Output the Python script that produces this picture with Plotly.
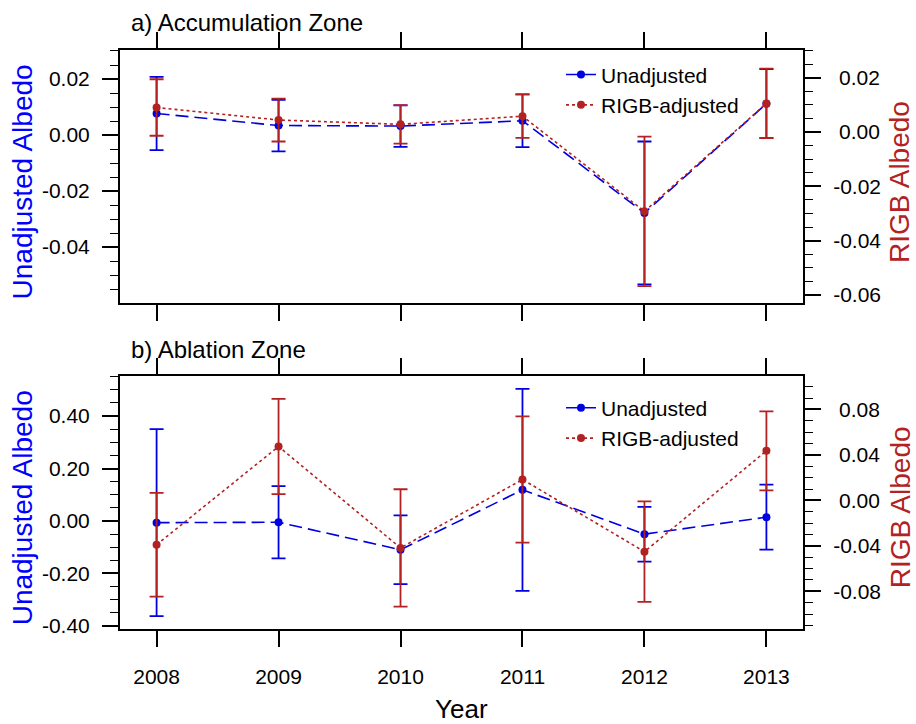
import plotly.graph_objects as go

# ---------------- data ----------------
years = [2008, 2009, 2010, 2011, 2012, 2013]
year_labels = ["2008", "2009", "2010", "2011", "2012", "2013"]

acc_unadj = [0.0077, 0.0034, 0.0032, 0.0051, -0.0278, 0.0112]
acc_unadj_err = [0.0131, 0.0092, 0.0074, 0.0094, 0.0255, 0.0123]
acc_rigb = [0.0090, 0.0044, 0.0028, 0.0058, -0.0292, 0.0105]
acc_rigb_err = [0.0104, 0.0079, 0.0071, 0.0080, 0.0275, 0.0128]

abl_unadj = [-0.0066, -0.0050, -0.1100, 0.1185, -0.0505, 0.0145]
abl_unadj_err = [0.3565, 0.1380, 0.1310, 0.3850, 0.1045, 0.1240]
abl_rigb = [-0.0390, 0.0474, -0.0418, 0.0184, -0.0451, 0.0436]
abl_rigb_err = [0.0457, 0.0419, 0.0516, 0.0555, 0.0442, 0.0347]

acc_left_ticks = [0.02, 0.0, -0.02, -0.04]
acc_left_text = ["0.02", "0.00", "-0.02", "-0.04"]
acc_right_ticks = [0.02, 0.0, -0.02, -0.04, -0.06]
acc_right_text = ["\u00a00.02", "\u00a00.00", "-0.02", "-0.04", "-0.06"]
abl_left_ticks = [0.4, 0.2, 0.0, -0.2, -0.4]
abl_left_text = ["0.40", "0.20", "0.00", "-0.20", "-0.40"]
abl_right_ticks = [0.08, 0.04, 0.0, -0.04, -0.08]
abl_right_text = ["\u00a00.08", "\u00a00.04", "\u00a00.00", "-0.04", "-0.08"]

BLUE = "#0000e0"
RED = "#b22222"
FONT = "Liberation Sans, Arial, Helvetica, sans-serif"
W, H = 916, 724

def px_x(p):
    return p / W

def px_y(p):
    return 1 - p / H

fig = go.Figure()

def add_series(x, y, err, color, dash, name, xa, ya, legend):
    fig.add_trace(go.Scatter(
        x=x, y=y, name=name, mode="lines+markers",
        xaxis=xa, yaxis=ya, legend=legend,
        line=dict(color=color, width=1.6, dash=dash),
        marker=dict(color=color, size=8),
        error_y=dict(type="data", array=err, visible=True,
                     color=color, thickness=1.8, width=7),
    ))

add_series(years, acc_unadj, acc_unadj_err, BLUE, "13px,6px", "Unadjusted", "x", "y", "legend")
add_series(years, acc_rigb, acc_rigb_err, RED, "3px,3px", "RIGB-adjusted", "x", "y2", "legend")
add_series(years, abl_unadj, abl_unadj_err, BLUE, "13px,6px", "Unadjusted", "x2", "y3", "legend2")
add_series(years, abl_rigb, abl_rigb_err, RED, "3px,3px", "RIGB-adjusted", "x2", "y4", "legend2")

xdom = [px_x(120), px_x(803)]
top_dom = [px_y(306), px_y(51)]
bot_dom = [px_y(635.7), px_y(380.3)]

tickfont = dict(family=FONT, size=21, color="black")

def xaxis(anchor, labels):
    return dict(domain=xdom, anchor=anchor, range=[2007.7, 2013.3],
                tickmode="array", tickvals=years, ticktext=year_labels,
                showticklabels=labels, ticks="outside", ticklen=16, tickwidth=1.6,
                tickcolor="black", showline=True, linewidth=2, linecolor="black",
                mirror="ticks", showgrid=False, zeroline=False,
                tickfont=tickfont, ticklabelstandoff=12)

def yaxis(dom, rng, tv, tt, mdt, side="left", overlay=None, anchor=None):
    d = dict(range=rng, tickmode="array", tickvals=tv, ticktext=tt,
             ticks="outside", ticklen=16, tickwidth=1.6, tickcolor="black",
             showline=True, linewidth=2, linecolor="black", mirror=False,
             showgrid=False, zeroline=False, tickfont=tickfont, side=side,
             ticklabelstandoff=8,
             minor=dict(tickmode="linear", tick0=0, dtick=mdt, ticks="outside",
                        ticklen=8, tickwidth=1.4, tickcolor="black", showgrid=False))
    if overlay:
        d["overlaying"] = overlay
        d["anchor"] = anchor
    else:
        d["domain"] = dom
        d["anchor"] = anchor
    return d

legend_common = dict(font=dict(family=FONT, size=21, color="black"),
                     bgcolor="rgba(0,0,0,0)", borderwidth=0,
                     xanchor="left", yanchor="top", tracegroupgap=0)

fig.update_layout(
    width=W, height=H, margin=dict(l=0, r=0, t=0, b=0),
    paper_bgcolor="white", plot_bgcolor="white",
    font=dict(family=FONT, color="black"),
    xaxis=xaxis("y", False),
    xaxis2=xaxis("y3", True),
    yaxis=yaxis(top_dom, [-0.0598, 0.0302], acc_left_ticks, acc_left_text, 0.005, anchor="x"),
    yaxis2=yaxis(None, [-0.0628, 0.0300], acc_right_ticks, acc_right_text, 0.005,
                 side="right", overlay="y", anchor="x"),
    yaxis3=yaxis(bot_dom, [-0.411, 0.5525], abl_left_ticks, abl_left_text, 0.05, anchor="x2"),
    yaxis4=yaxis(None, [-0.1128, 0.1093], abl_right_ticks, abl_right_text, 0.01,
                 side="right", overlay="y3", anchor="x2"),
    legend=dict(x=px_x(561), y=px_y(55), **legend_common),
    legend2=dict(x=px_x(561), y=px_y(392), **legend_common),
    showlegend=True,
)

ann = [
    dict(text="a) Accumulation Zone", x=px_x(129), y=px_y(22.5), xanchor="left", yanchor="middle",
         font=dict(family=FONT, size=24, color="black")),
    dict(text="b) Ablation Zone", x=px_x(129), y=px_y(353), xanchor="left", yanchor="middle",
         font=dict(family=FONT, size=24, color="black")),
    dict(text="Unadjusted Albedo", x=px_x(22), y=px_y(184.5), textangle=-90,
         xanchor="center", yanchor="middle", font=dict(family=FONT, size=28, color="blue")),
    dict(text="RIGB Albedo", x=px_x(900), y=px_y(184), textangle=-90,
         xanchor="center", yanchor="middle", font=dict(family=FONT, size=28, color=RED)),
    dict(text="Unadjusted Albedo", x=px_x(22), y=px_y(514), textangle=-90,
         xanchor="center", yanchor="middle", font=dict(family=FONT, size=28, color="blue")),
    dict(text="RIGB Albedo", x=px_x(900), y=px_y(513), textangle=-90,
         xanchor="center", yanchor="middle", font=dict(family=FONT, size=28, color=RED)),
    dict(text="Year", x=px_x(461.5), y=px_y(717), xanchor="center", yanchor="middle",
         font=dict(family=FONT, size=26, color="black")),
]
for a in ann:
    a.update(xref="paper", yref="paper", showarrow=False)
fig.update_layout(annotations=ann)

fig.write_html("out.html")
